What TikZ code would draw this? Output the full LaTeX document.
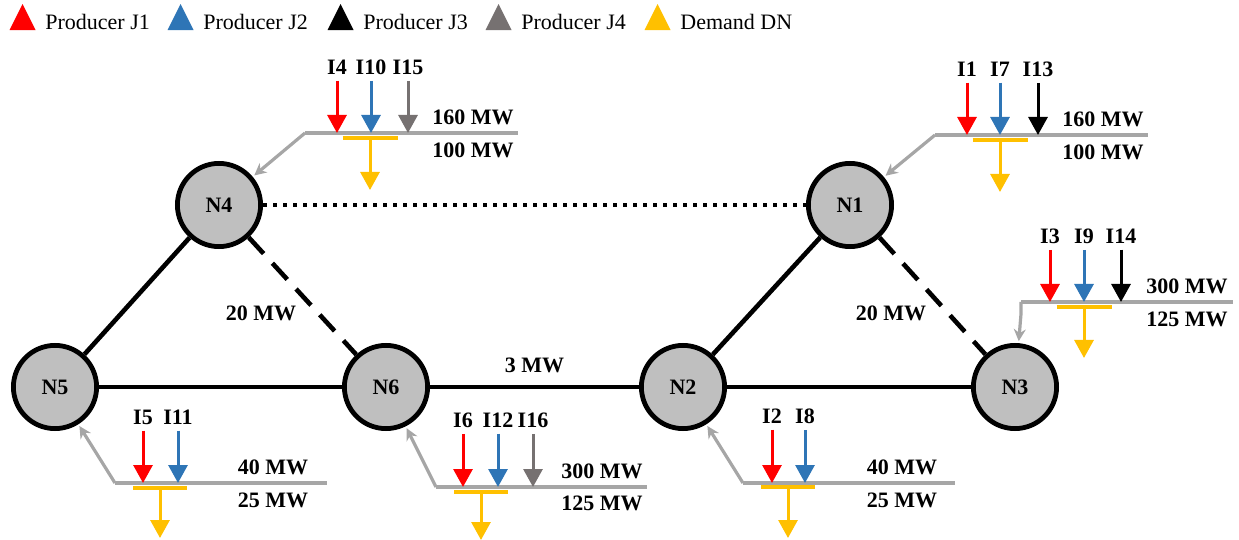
\documentclass[tikz,border=0pt]{standalone}
\usepackage{fontspec}
\setmainfont{Liberation Serif}
\usetikzlibrary{arrows.meta, positioning, shapes.geometric, calc}
\definecolor{prodred}{RGB}{255, 0, 0}
\definecolor{prodblue}{RGB}{46, 117, 182}
\definecolor{prodgray}{RGB}{118, 113, 113}
\definecolor{demandyellow}{RGB}{255, 192, 0}
\definecolor{busgray}{RGB}{166, 166, 166}
\definecolor{nodegray}{RGB}{191, 191, 191}

\begin{document}
\begin{tikzpicture}[
    x=0.5pt, y=-0.5pt,
    busnode/.style={circle, draw=black, line width=2.4pt, fill=nodegray, minimum size=41.6pt, inner sep=0pt, font=\fontsize{11}{13}\selectfont\bfseries},
    tie/.style={line width=2.3pt},
    idlabel/.style={font=\fontsize{11}{13}\selectfont\bfseries, inner sep=3pt},
    genarrow/.style={-{Triangle[width=9.5pt,length=9pt]}, line width=1.5pt},
    loadarrow/.style={-{Triangle[width=9.5pt,length=9pt]}, line width=1.5pt, demandyellow},
    loadbar/.style={line width=2pt, demandyellow},
    busline/.style={line width=1.6pt, busgray},
    linkarrow/.style={-{Stealth[length=6pt,width=6pt]}, line width=1.6pt, busgray, shorten >=1pt},
    legmark/.style={isosceles triangle, shape border rotate=90, isosceles triangle stretches, minimum width=13pt, minimum height=13pt, inner sep=0pt},
    legtext/.style={inner sep=0pt, anchor=west, font=\fontsize{11}{13}\selectfont}
]
\useasboundingbox (0,0) rectangle (1239,540);

% Legend
\node[legtext] (t1) at (45,22) {Producer J1};
\node[legtext] (t2) at (203,22) {Producer J2};
\node[legtext] (t3) at (363,22) {Producer J3};
\node[legtext] (t4) at (521,22) {Producer J4};
\node[legtext] (t5) at (680,22) {Demand DN};
\node[legmark, fill=prodred, left=6.5pt of t1] (m1) {};
\node[legmark, fill=prodblue, left=6.5pt of t2] (m2) {};
\node[legmark, fill=black, left=6.5pt of t3] (m3) {};
\node[legmark, fill=prodgray, left=6.5pt of t4] (m4) {};
\node[legmark, fill=demandyellow, left=6.5pt of t5] (m5) {};

% Network nodes
\node[busnode] (N4) at (219,205) {N4};
\node[busnode] (N1) at (850,205) {N1};
\node[busnode] (N5) at (55,387) {N5};
\node[busnode] (N6) at (386,387) {N6};
\node[busnode] (N2) at (683,387) {N2};
\node[busnode] (N3) at (1015,387) {N3};

% Lines
\draw[tie, dash pattern=on 2.2pt off 2.8pt] (N4) -- (N1);
\draw[tie] (N4) -- (N5);
\draw[tie, dash pattern=on 11pt off 6.5pt] (N4) -- (N6);
\draw[tie] (N5) -- (N6);
\draw[tie] (N6) -- node[idlabel, midway, above=3pt] (f62) {3 MW} (N2);
\draw[tie] (N2) -- (N1);
\draw[tie] (N2) -- (N3);
\draw[tie, dash pattern=on 11pt off 6.5pt] (N1) -- (N3);
\node[idlabel] (f46) at (261,313) {20 MW};
\node[idlabel] (f13) at (891,313) {20 MW};

% Bus N4
\coordinate (b4) at (305,133);
\coordinate (e4) at (518,133);
\coordinate (d4) at (370,138);
\draw[busline] (b4) -- (e4);
\draw[linkarrow] (b4) -- (N4);
\node[idlabel] (i4) at (337,67) {I4};
\node[idlabel] (i10) at (371,67) {I10};
\node[idlabel] (i15) at (408,67) {I15};
\draw[genarrow, prodred] (i4) -- (i4 |- b4);
\draw[genarrow, prodblue] (i10) -- (i10 |- b4);
\draw[genarrow, prodgray] (i15) -- (i15 |- b4);
\draw[loadbar] ($(d4)+(-27.5,0)$) -- ($(d4)+(27.5,0)$);
\draw[loadarrow] (d4) -- ++(0,52);
\node[idlabel] (p4) at (473,117) {160 MW};
\node[idlabel] (q4) at (473,150) {100 MW};

% Bus N1
\coordinate (b1) at (935,135);
\coordinate (e1) at (1148,135);
\coordinate (d1) at (1000,140);
\draw[busline] (b1) -- (e1);
\draw[linkarrow] (b1) -- (N1);
\node[idlabel] (i1) at (967,69) {I1};
\node[idlabel] (i7) at (1000,69) {I7};
\node[idlabel] (i13) at (1038,69) {I13};
\draw[genarrow, prodred] (i1) -- (i1 |- b1);
\draw[genarrow, prodblue] (i7) -- (i7 |- b1);
\draw[genarrow, black] (i13) -- (i13 |- b1);
\draw[loadbar] ($(d1)+(-27.5,0)$) -- ($(d1)+(27.5,0)$);
\draw[loadarrow] (d1) -- ++(0,52);
\node[idlabel] (p1) at (1103,119) {160 MW};
\node[idlabel] (q1) at (1103,152) {100 MW};

% Bus N3
\coordinate (b3) at (1021,302);
\coordinate (e3) at (1233,302);
\coordinate (d3) at (1084,307);
\draw[busline] (b3) -- (e3);
\draw[linkarrow] (b3) -- ++(0,12) -- (N3);
\node[idlabel] (i3) at (1050,236) {I3};
\node[idlabel] (i9) at (1084,236) {I9};
\node[idlabel] (i14) at (1121,236) {I14};
\draw[genarrow, prodred] (i3) -- (i3 |- b3);
\draw[genarrow, prodblue] (i9) -- (i9 |- b3);
\draw[genarrow, black] (i14) -- (i14 |- b3);
\draw[loadbar] ($(d3)+(-27.5,0)$) -- ($(d3)+(27.5,0)$);
\draw[loadarrow] (d3) -- ++(0,51);
\node[idlabel] (p3) at (1187,286) {300 MW};
\node[idlabel] (q3) at (1187,319) {125 MW};

% Bus N5
\coordinate (b5) at (115,483);
\coordinate (e5) at (327,483);
\coordinate (d5) at (160,488);
\draw[busline] (b5) -- (e5);
\draw[linkarrow] (b5) -- (N5);
\node[idlabel] (i5) at (143,417) {I5};
\node[idlabel] (i11) at (178,417) {I11};
\draw[genarrow, prodred] (i5) -- (i5 |- b5);
\draw[genarrow, prodblue] (i11) -- (i11 |- b5);
\draw[loadbar] ($(d5)+(-27,0)$) -- ($(d5)+(27,0)$);
\draw[loadarrow] (d5) -- ++(0,50);
\node[idlabel] (p5) at (273,467) {40 MW};
\node[idlabel] (q5) at (273,500) {25 MW};

% Bus N6
\coordinate (b6) at (436,487);
\coordinate (e6) at (647,487);
\coordinate (d6) at (481,492);
\draw[busline] (b6) -- (e6);
\draw[linkarrow] (b6) -- (N6);
\node[idlabel] (i6) at (463,420) {I6};
\node[idlabel] (i12) at (498,420) {I12};
\node[idlabel] (i16) at (533,420) {I16};
\draw[genarrow, prodred] (i6) -- (i6 |- b6);
\draw[genarrow, prodblue] (i12) -- (i12 |- b6);
\draw[genarrow, prodgray] (i16) -- (i16 |- b6);
\draw[loadbar] ($(d6)+(-27,0)$) -- ($(d6)+(27,0)$);
\draw[loadarrow] (d6) -- ++(0,48);
\node[idlabel] (p6) at (602,471) {300 MW};
\node[idlabel] (q6) at (602,503) {125 MW};

% Bus N2
\coordinate (b2) at (743,483);
\coordinate (e2) at (955,483);
\coordinate (d2) at (788,487);
\draw[busline] (b2) -- (e2);
\draw[linkarrow] (b2) -- (N2);
\node[idlabel] (i2) at (772,416) {I2};
\node[idlabel] (i8) at (805,416) {I8};
\draw[genarrow, prodred] (i2) -- (i2 |- b2);
\draw[genarrow, prodblue] (i8) -- (i8 |- b2);
\draw[loadbar] ($(d2)+(-27,0)$) -- ($(d2)+(27,0)$);
\draw[loadarrow] (d2) -- ++(0,51);
\node[idlabel] (p2) at (902,467) {40 MW};
\node[idlabel] (q2) at (902,500) {25 MW};
\end{tikzpicture}
\end{document}
